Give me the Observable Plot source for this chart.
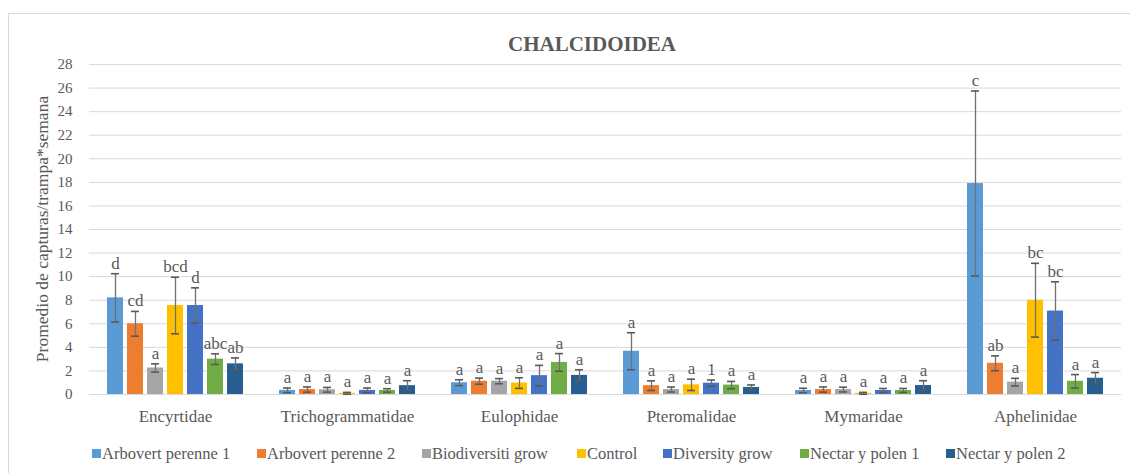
<!DOCTYPE html>
<html>
<head>
<meta charset="utf-8">
<script src="https://cdn.jsdelivr.net/npm/d3@7"></script>
<script src="https://cdn.jsdelivr.net/npm/@observablehq/plot@0.6"></script>
<style>
  html, body { margin: 0; padding: 0; background: #fff; }
  #wrap { position: relative; width: 1130px; height: 473px; overflow: hidden; background: #fff;
          font-family: "Liberation Serif", "Times New Roman", serif; color: #595959; }
  #frame { position: absolute; left: 8px; top: 13px; width: 1300px; height: 600px; border: 1px solid #D9D9D9; box-sizing: border-box; }
  #title { position: absolute; left: 0; top: 34px; width: 1184px; text-align: center; font-weight: bold;
           font-size: 21px; line-height: 1; color: #595959; }
  #ylabel { position: absolute; left: 43px; top: 229px; transform: translate(-50%, -50%) rotate(-90deg);
            white-space: nowrap; font-size: 17.5px; line-height: 1; }
  #chart { position: absolute; left: 0; top: 0; }
  .leg { position: absolute; top: 446px; font-size: 16.5px; line-height: 1; white-space: nowrap; }
  .leg i { position: absolute; left: 0; top: 3px; width: 9px; height: 9px; }
  .leg span { margin-left: 10px; }
</style>
</head>
<body>
<div id="wrap">
  <div id="frame"></div>
  <div id="chart"></div>
  <div id="title">CHALCIDOIDEA</div>
  <div id="ylabel">Promedio de capturas/trampa*semana</div>
</div>
<script>
// ---- data ----
const families = ["Encyrtidae", "Trichogrammatidae", "Eulophidae", "Pteromalidae", "Mymaridae", "Aphelinidae"];
const treatments = ["Arbovert perenne 1", "Arbovert perenne 2", "Biodiversiti grow", "Control", "Diversity grow", "Nectar y polen 1", "Nectar y polen 2"];
const colors = ["#5B9BD5", "#ED7D31", "#A5A5A5", "#FFC000", "#4472C4", "#70AD47", "#255E91"];
const yTicks = [0, 2, 4, 6, 8, 10, 12, 14, 16, 18, 20, 22, 24, 26, 28];

const encyrtidaeMean = [8.2, 6.0, 2.25, 7.55, 7.55, 3.0, 2.6];
const encyrtidaeErr  = [2.05, 1.05, 0.35, 2.4, 1.5, 0.45, 0.5];
const encyrtidaeLetters = ["d", "cd", "a", "bcd", "d", "abc", "ab"];

const trichoMean = [0.35, 0.42, 0.4, 0.1, 0.35, 0.34, 0.75];
const trichoErr  = [0.2, 0.22, 0.2, 0.08, 0.2, 0.15, 0.42];
const trichoLetters = ["a", "a", "a", "a", "a", "a", "a"];

const eulophidaeMean = [1.0, 1.13, 1.13, 0.97, 1.6, 2.72, 1.62];
const eulophidaeErr  = [0.25, 0.26, 0.22, 0.45, 0.87, 0.75, 0.48];
const eulophidaeLetters = ["a", "a", "a", "a", "a", "a", "a"];

const pteromalidaeMean = [3.67, 0.75, 0.42, 0.82, 0.96, 0.8, 0.6];
const pteromalidaeErr  = [1.57, 0.41, 0.21, 0.48, 0.27, 0.31, 0.21];
const pteromalidaeLetters = ["a", "a", "a", "a", "1", "a", "a"];

const mymaridaeMean = [0.34, 0.42, 0.42, 0.1, 0.34, 0.34, 0.76];
const mymaridaeErr  = [0.19, 0.22, 0.2, 0.08, 0.17, 0.17, 0.41];
const mymaridaeLetters = ["a", "a", "a", "a", "a", "a", "a"];

const aphelinidaeMean = [17.9, 2.65, 1.05, 8.0, 7.08, 1.12, 1.38];
const aphelinidaeErr  = [7.85, 0.63, 0.32, 3.13, 2.48, 0.57, 0.48];
const aphelinidaeLetters = ["c", "ab", "a", "bc", "bc", "a", "a"];

// ---- table ----
const groups = [
  [encyrtidaeMean, encyrtidaeErr, encyrtidaeLetters],
  [trichoMean, trichoErr, trichoLetters],
  [eulophidaeMean, eulophidaeErr, eulophidaeLetters],
  [pteromalidaeMean, pteromalidaeErr, pteromalidaeLetters],
  [mymaridaeMean, mymaridaeErr, mymaridaeLetters],
  [aphelinidaeMean, aphelinidaeErr, aphelinidaeLetters]
];
const rows = [];
families.forEach((f, i) => {
  const [m, e, l] = groups[i];
  treatments.forEach((t, j) => {
    rows.push({family: f, treatment: t, mean: m[j], lo: Math.max(0, m[j] - e[j]), hi: m[j] + e[j], letter: l[j]});
  });
});

// ---- chart ----
const chart = Plot.plot({
  width: 1130,
  height: 473,
  marginTop: 64,
  marginBottom: 79,
  marginLeft: 88,
  marginRight: 9,
  style: {fontFamily: "'Liberation Serif', 'Times New Roman', serif", fontSize: "17px", color: "#595959", background: "none"},
  fx: {domain: families, padding: 0, axis: "bottom", label: null, tickSize: 0, tickPadding: 15},
  x: {domain: treatments, paddingInner: 0.21, paddingOuter: 0.855, axis: null},
  y: {domain: [0, 28], axis: null},
  color: {domain: treatments, range: colors},
  marks: [
    Plot.ruleY(yTicks, {stroke: "#D9D9D9", strokeWidth: 1}),
    Plot.axisY({ticks: yTicks, tickSize: 0, tickPadding: 17, fontSize: 15, label: null}),
    Plot.barY(rows, {fx: "family", x: "treatment", y: "mean", fill: "treatment"}),
    Plot.ruleX(rows, {fx: "family", x: "treatment", y1: "lo", y2: "hi", stroke: "#707070", strokeWidth: 1.3}),
    Plot.tickY(rows, {fx: "family", x: "treatment", y: "hi", stroke: "#595959", strokeWidth: 1.6, insetLeft: 4, insetRight: 4}),
    Plot.tickY(rows, {fx: "family", x: "treatment", y: "lo", stroke: "#595959", strokeWidth: 1.6, insetLeft: 4, insetRight: 4}),
    Plot.text(rows, {fx: "family", x: "treatment", y: "hi", text: "letter", lineAnchor: "bottom", dy: -5, fill: "#595959", fontSize: 17})
  ]
});
document.getElementById("chart").appendChild(chart);

// ---- legend ----
const legendLeft = [92, 257, 422, 577, 663, 800, 946];
const wrap = document.getElementById("wrap");
treatments.forEach((t, i) => {
  const d = document.createElement("div");
  d.className = "leg";
  d.style.left = legendLeft[i] + "px";
  const sw = document.createElement("i");
  sw.style.background = colors[i];
  const s = document.createElement("span");
  s.textContent = t;
  d.appendChild(sw);
  d.appendChild(s);
  wrap.appendChild(d);
});
</script>
</body>
</html>
